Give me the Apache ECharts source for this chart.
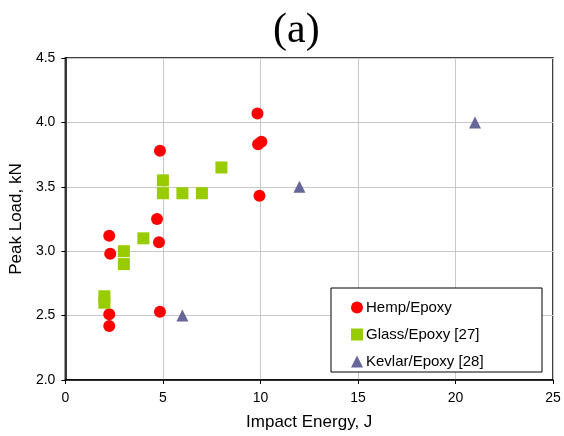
<!DOCTYPE html>
<html>
<head>
<meta charset="utf-8">
<script src="https://cdn.jsdelivr.net/npm/echarts@6/dist/echarts.min.js"></script>
<style>
html, body { margin: 0; padding: 0; background: #fff; }
#chart { width: 564px; height: 436px; }
</style>
</head>
<body>
<div id="chart"></div>
<script>
// 各系列数据 [冲击能量 J, 峰值载荷 kN]
const hempData = [
	[2.25, 3.12], [2.3, 2.98], [2.25, 2.51], [2.25, 2.42],
	[4.85, 3.78], [4.7, 3.25], [4.8, 3.07], [4.85, 2.53],
	[9.85, 4.07], [9.88, 3.83], [10.05, 3.85], [9.95, 3.43]
]
const glassData = [
	[2, 2.65], [2, 2.6], [3, 3.0], [3, 2.9], [4, 3.1],
	[5, 3.55], [5, 3.45], [6, 3.45], [7, 3.45], [8, 3.65]
]
const kevlarData = [[6, 2.5], [12, 3.5], [21, 4.0]]
const seriesNames = ['Hemp/Epoxy', 'Glass/Epoxy [27]', 'Kevlar/Epoxy [28]']

const chart = echarts.init(document.getElementById('chart'))
const font = 'Liberation Sans, Arial, sans-serif'
const option = {
	animation: false,
	backgroundColor: '#fff',
	title: {
		text: '(a)',
		left: 268,
		top: 5,
		textStyle: {
			fontFamily: 'Liberation Serif, Times New Roman, serif',
			fontSize: 42,
			fontWeight: 'normal',
			color: '#000'
		}
	},
	grid: {
		left: 64,
		right: 11,
		top: 58,
		bottom: 52,
		show: true,
		borderColor: '#000',
		borderWidth: 1.5
	},
	graphic: [
		{
			type: 'rect',
			shape: { x: 331, y: 288, width: 211, height: 84 },
			style: { fill: '#fff', stroke: '#000', lineWidth: 1 },
			z: 50
		}
	],
	legend: {
		orient: 'vertical',
		left: 346,
		top: 295,
		itemWidth: 12,
		itemHeight: 12,
		itemGap: 12,
		z: 60,
		selectedMode: false,
		textStyle: { fontFamily: font, fontSize: 15, color: '#000', padding: [0, 0, 0, -2] },
		data: seriesNames
	},
	xAxis: {
		type: 'value',
		min: 0,
		max: 25,
		interval: 5,
		name: 'Impact Energy, J',
		nameLocation: 'middle',
		nameGap: 34,
		nameTextStyle: { fontFamily: font, fontSize: 17, color: '#000' },
		axisLine: { lineStyle: { color: '#000', width: 1.5 } },
		axisTick: { show: true, length: 4, lineStyle: { color: '#000' } },
		axisLabel: { fontFamily: font, fontSize: 14, color: '#000', margin: 11 },
		splitLine: { show: true, lineStyle: { color: '#c8c8c8', width: 1 } }
	},
	yAxis: {
		type: 'value',
		min: 2.0,
		max: 4.5,
		interval: 0.5,
		name: 'Peak Load, kN',
		nameLocation: 'middle',
		nameGap: 38,
		nameTextStyle: { fontFamily: font, fontSize: 17, color: '#000' },
		axisLine: { show: true, lineStyle: { color: '#000', width: 1.5 } },
		axisTick: { show: true, length: 4, lineStyle: { color: '#000' } },
		axisLabel: {
			fontFamily: font,
			fontSize: 14,
			color: '#000',
			margin: 10,
			formatter: (v) => v.toFixed(1)
		},
		splitLine: { show: true, lineStyle: { color: '#c8c8c8', width: 1 } }
	},
	series: [
		{
			name: seriesNames[0],
			type: 'scatter',
			symbol: 'circle',
			symbolSize: 12,
			data: hempData,
			itemStyle: { color: '#ff0000', opacity: 1 }
		},
		{
			name: seriesNames[1],
			type: 'scatter',
			symbol: 'rect',
			symbolSize: 12,
			data: glassData,
			itemStyle: { color: '#99cc00', opacity: 1 }
		},
		{
			name: seriesNames[2],
			type: 'scatter',
			symbol: 'triangle',
			symbolSize: 12,
			data: kevlarData,
			itemStyle: { color: '#666699', opacity: 1 }
		}
	]
}
chart.setOption(option)
</script>
</body>
</html>
